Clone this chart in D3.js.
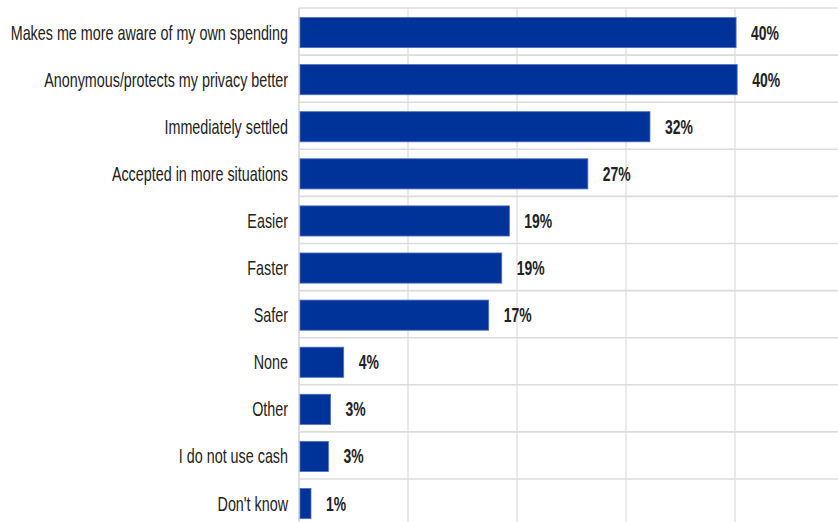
<!DOCTYPE html>
<html>
<head>
<meta charset="utf-8">
<script src="https://cdn.jsdelivr.net/npm/d3@7"></script>
<style>
  body { margin: 0; background: #fff; }
  svg { display: block; }
</style>
</head>
<body>
<div id="chart-area"></div>
<script>
// SVG Size
var width = 838,
	height = 522;

// Data
var categories = [
	"Makes me more aware of my own spending",
	"Anonymous/protects my privacy better",
	"Immediately settled",
	"Accepted in more situations",
	"Easier",
	"Faster",
	"Safer",
	"None",
	"Other",
	"I do not use cash",
	"Don't know"
];
var values = [40.1, 40.2, 32.2, 26.5, 19.3, 18.6, 17.4, 4.1, 2.9, 2.7, 1.1];
var valueLabels = ["40%", "40%", "32%", "27%", "19%", "19%", "17%", "4%", "3%", "3%", "1%"];
var xTicks = [0, 10, 20, 30, 40, 50];

var data = categories.map(function(c, i) {
	return { name: c, value: values[i], label: valueLabels[i] };
});

var plotLeft = 299, plotTop = 8;

var svg = d3.select('#chart-area')
	.append("svg")
	.attr("width", width)
	.attr("height", height);

// scales
var xScale = d3.scaleLinear()
	.domain([0, 50])
	.range([plotLeft, plotLeft + 545]);

var yScale = d3.scaleBand()
	.domain(categories)
	.range([plotTop, plotTop + 11 * 47.1])
	.paddingInner(0.36)
	.paddingOuter(0.18);

// vertical gridlines
svg.append("g")
	.selectAll("line")
	.data(xTicks)
	.enter()
	.append("line")
	.attr("x1", function(d){ return xScale(d); })
	.attr("x2", function(d){ return xScale(d); })
	.attr("y1", plotTop)
	.attr("y2", height)
	.attr("stroke", function(d){ return d === 0 ? "#c9c9c9" : "#dcdcdc"; })
	.attr("stroke-width", 1.2);

// horizontal lines between categories
var step = yScale.step();
var boundaries = d3.range(categories.length + 1).map(function(i){ return plotTop + i * step; });
svg.append("g")
	.selectAll("line")
	.data(boundaries)
	.enter()
	.append("line")
	.attr("x1", plotLeft)
	.attr("x2", width)
	.attr("y1", function(d){ return d; })
	.attr("y2", function(d){ return d; })
	.attr("stroke", "#dcdcdc")
	.attr("stroke-width", 1.6);

// bars
svg.append("g")
	.selectAll("rect")
	.data(data)
	.enter()
	.append("rect")
	.attr("x", xScale(0) + 1)
	.attr("y", function(d){ return yScale(d.name) + 1; })
	.attr("width", function(d){ return xScale(d.value) - xScale(0) - 1; })
	.attr("height", yScale.bandwidth())
	.attr("fill", "#003399")
	.attr("stroke", "#4d6fc4")
	.attr("stroke-width", 0.8);

// narrow-looking text: squeeze horizontally, stretch vertically
var labelFont = "'Liberation Sans Narrow', 'Arial Narrow', 'Liberation Sans', Arial, sans-serif";

// category labels
svg.append("g")
	.selectAll("text")
	.data(data)
	.enter()
	.append("text")
	.attr("transform", function(d){
		return "translate(" + 288 + "," + (yScale(d.name) + yScale.bandwidth() / 2 + 8) + ") scale(0.82,1.2)";
	})
	.attr("text-anchor", "end")
	.attr("font-family", labelFont)
	.attr("font-size", 17.5)
	.attr("fill", "#222")
	.text(function(d){ return d.name; });

// value labels
svg.append("g")
	.selectAll("text")
	.data(data)
	.enter()
	.append("text")
	.attr("transform", function(d){
		return "translate(" + (xScale(d.value) + 15) + "," + (yScale(d.name) + yScale.bandwidth() / 2 + 8) + ") scale(0.82,1.2)";
	})
	.attr("font-family", labelFont)
	.attr("font-weight", "bold")
	.attr("font-size", 17)
	.attr("fill", "#222")
	.text(function(d){ return d.label; });
</script>
</body>
</html>
